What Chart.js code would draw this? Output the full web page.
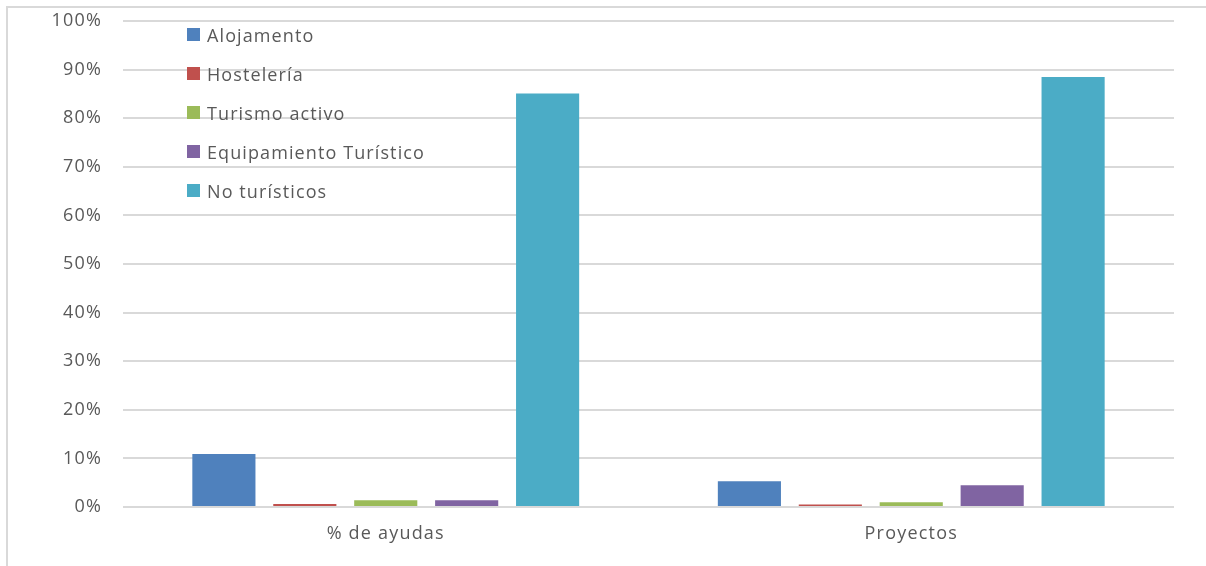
<!DOCTYPE html>
<html>
<head>
<meta charset="utf-8">
<script src="https://cdn.jsdelivr.net/npm/chart.js@4.4.1/dist/chart.umd.min.js"></script>
<style>
  html, body { margin: 0; padding: 0; background: #fff; }
  #wrap { position: relative; width: 1206px; height: 566px; overflow: hidden; }
  #frame { position: absolute; left: 6px; top: 6px; width: 1210px; height: 570px;
           border-top: 2px solid #d9d9d9; border-left: 2px solid #d9d9d9; box-sizing: border-box; }
  #c { position: absolute; left: 0; top: 0; }
  #legend { position: absolute; left: 187px; top: 15px; font-family: "Open Sans", sans-serif;
            font-size: 18px; color: #595959; letter-spacing: 1.1px; }
  .li { height: 39px; display: flex; align-items: center; white-space: nowrap; line-height: 24px; }
  .sw { width: 13px; height: 13px; margin-right: 7px; flex: none; }
</style>
</head>
<body>
<div id="wrap">
  <div id="frame"></div>
  <canvas id="c" width="1206" height="566"></canvas>
  <div id="legend"></div>
</div>
<script>
const categories = ['% de ayudas', 'Proyectos'];
const seriesNames = ['Alojamento', 'Hostelería', 'Turismo activo', 'Equipamiento Turístico', 'No turísticos'];
const alojamento = [10.9, 5.3];
const hosteleria = [0.6, 0.5];
const turismoActivo = [1.4, 1.0];
const equipamiento = [1.4, 4.5];
const noTuristicos = [85.1, 88.5];
const seriesColors = ['#4F81BD', '#C0504D', '#9BBB59', '#8064A2', '#4BACC6'];
const yTicks = [0, 10, 20, 30, 40, 50, 60, 70, 80, 90, 100];

const seriesValues = [alojamento, hosteleria, turismoActivo, equipamiento, noTuristicos];
const FONT = '"Open Sans", sans-serif';

const datasets = seriesNames.map((name, i) => ({
  label: name,
  data: seriesValues[i],
  backgroundColor: seriesColors[i],
  borderWidth: 0,
  categoryPercentage: 0.77,
  barPercentage: 0.78
}));

const spacingPlugin = {
  id: 'spacing',
  beforeLayout(chart) { chart.ctx.letterSpacing = '1.2px'; },
  beforeDraw(chart) { chart.ctx.letterSpacing = '1.2px'; }
};

new Chart(document.getElementById('c'), {
  type: 'bar',
  data: { labels: categories, datasets },
  plugins: [spacingPlugin],
  options: {
    responsive: false,
    animation: false,
    events: [],
    layout: { padding: { top: 21, right: 32, bottom: 0, left: 0 } },
    plugins: { legend: { display: false }, tooltip: { enabled: false } },
    scales: {
      x: {
        grid: { display: false, drawTicks: false },
        border: { display: false },
        ticks: { color: '#595959', font: { family: FONT, size: 18 }, padding: 16 },
        afterFit: s => { s.height = 59; }
      },
      y: {
        min: 0, max: 100,
        afterBuildTicks: s => { s.ticks = yTicks.map(v => ({ value: v })); },
        grid: { color: '#d9d9d9', lineWidth: 2, drawTicks: true, tickLength: 21, tickColor: 'rgba(0,0,0,0)' },
        border: { display: false },
        ticks: { color: '#595959', font: { family: FONT, size: 18 }, padding: 0,
                 callback: v => v + '%' },
        afterFit: s => { s.width = 123; }
      }
    }
  }
});

const lg = document.getElementById('legend');
seriesNames.forEach((n, i) => {
  const d = document.createElement('div');
  d.className = 'li';
  const sw = document.createElement('span');
  sw.className = 'sw';
  sw.style.background = seriesColors[i];
  const t = document.createElement('span');
  t.textContent = n;
  d.appendChild(sw); d.appendChild(t);
  lg.appendChild(d);
});
</script>
</body>
</html>
